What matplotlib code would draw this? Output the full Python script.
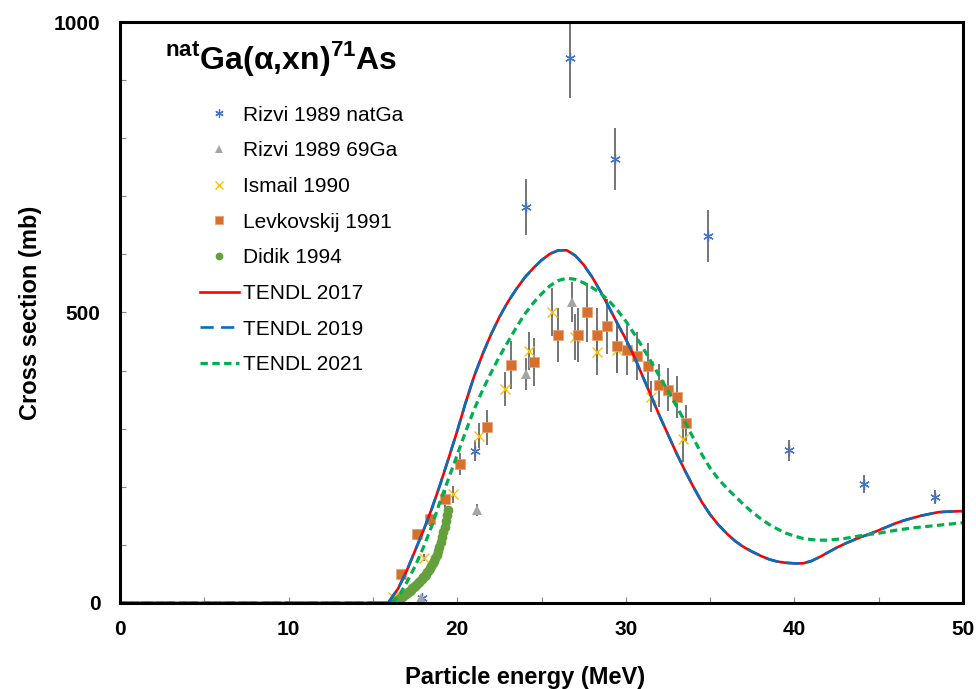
import matplotlib
matplotlib.use("Agg")
import matplotlib.pyplot as plt
from matplotlib.ticker import MultipleLocator

plt.rcParams['font.family'] = ['Liberation Sans', 'DejaVu Sans']
plt.rcParams['mathtext.fontset'] = 'custom'
plt.rcParams['mathtext.rm'] = 'Liberation Sans'
plt.rcParams['mathtext.bf'] = 'Liberation Sans:bold'

# --- DATA ---
rizvi_nat_e = [17.89, 21.06, 24.06, 26.69, 29.36, 34.88, 39.68, 44.13, 48.34]
rizvi_nat_s = [9, 262, 682, 938, 764, 632, 263, 205, 183]
rizvi_nat_err = [4, 18, 48, 68, 54, 45, 18, 15, 12]

rizvi_69_e = [17.85, 21.17, 24.06, 26.80]
rizvi_69_s = [9, 160, 394, 518]
rizvi_69_err = [3, 10, 28, 35]

ismail_e = [16.17, 18.05, 19.73, 21.29, 22.84, 24.26, 25.62, 26.99, 28.29, 29.48, 31.50, 33.39]
ismail_s = [10, 78, 187, 288, 368, 434, 501, 458, 432, 435, 355, 282]
ismail_err = [2, 6, 15, 22, 29, 33, 41, 40, 40, 40, 27, 40]

levk_e = [16.67, 17.60, 18.39, 19.30, 20.17, 21.79, 23.19, 24.57, 26.00, 27.19, 27.68,
          28.27, 28.87, 29.46, 30.09, 30.68, 31.34, 31.97, 32.48, 33.06, 33.55]
levk_s = [49, 118, 145, 179, 239, 302, 410, 415, 461, 461, 500,
          461, 476, 442, 435, 425, 407, 375, 367, 355, 309]
levk_err = [4, 10, 12, 15, 19, 30, 41, 41, 46, 46, 50,
            46, 48, 44, 43, 42, 41, 37, 37, 36, 31]

didik_e = [16.30, 16.38, 16.46, 16.54, 16.62, 16.70, 16.78, 16.86, 16.94, 17.02, 17.10,
           17.18, 17.26, 17.34, 17.42, 17.50, 17.58, 17.66, 17.74, 17.82, 17.90, 17.98,
           18.06, 18.14, 18.22, 18.30, 18.38, 18.46, 18.54, 18.62, 18.70, 18.78, 18.86,
           18.94, 19.02, 19.10, 19.18, 19.26, 19.34, 19.42, 19.47]
didik_s = [3, 4, 5, 6, 8, 10, 12, 13, 15, 17, 19,
           21, 23, 25, 27, 29, 31, 34, 36, 38, 41, 44,
           47, 50, 53, 56, 60, 64, 68, 72, 77, 82, 89,
           96, 104, 113, 122, 131, 141, 152, 160]

tendl17_e = [0, 15.9, 16.5, 17, 17.5, 18, 18.5, 19, 19.5, 20, 20.5, 21, 21.5, 22, 22.5, 23,
             23.5, 24, 24.5, 25, 25.5, 26, 26.5, 27, 27.5, 28, 28.5, 29, 29.5, 30, 30.5,
             31, 31.5, 32, 32.5, 33, 33.5, 34, 34.5, 35, 35.5, 36, 36.5, 37, 37.5, 38,
             38.5, 39, 39.5, 40, 40.5, 41, 41.5, 42, 42.5, 43, 43.5, 44, 44.5, 45, 45.5,
             46, 46.5, 47, 47.5, 48, 48.5, 49, 50]
tendl17_s = [0, 0, 25, 55, 90, 125, 163, 205, 250, 296, 345, 390, 428, 462, 492, 518,
             540, 560, 576, 590, 601, 607, 607, 598, 582, 561, 536, 509, 481, 454, 424,
             390, 356, 322, 290, 258, 228, 200, 174, 152, 134, 119, 106, 96, 88, 81,
             75, 71, 69, 68, 68, 72, 79, 87, 95, 102, 108, 114, 119, 125, 131,
             137, 142, 146, 150, 153, 156, 157, 158]
tendl19_e = tendl17_e
tendl19_s = tendl17_s

tendl21_e = [0, 16.1, 16.5, 17, 17.5, 18, 18.5, 19, 19.5, 20, 20.5, 21, 21.5, 22, 22.5, 23,
             23.5, 24, 24.5, 25, 25.5, 26, 26.5, 27, 27.5, 28, 28.5, 29, 29.5, 30, 30.5,
             31, 31.5, 32, 32.5, 33, 33.5, 34, 34.5, 35, 35.5, 36, 36.5, 37, 37.5, 38,
             38.5, 39, 39.5, 40, 40.5, 41, 41.5, 42, 43, 44, 45, 46, 47, 48, 49, 50]
tendl21_s = [0, 0, 10, 35, 63, 96, 133, 176, 215, 255, 295, 333, 366, 396, 424, 449,
             474, 497, 516, 532, 546, 555, 559, 557, 551, 543, 533, 520, 504, 485, 463,
             440, 415, 390, 365, 339, 312, 284, 256, 232, 213, 197, 183, 169, 156, 145,
             135, 127, 120, 115, 111, 109, 108, 108, 111, 116, 120, 125, 129, 132, 135, 138]

# --- PLOT ---
fig = plt.figure(figsize=(9.76, 6.89), dpi=100)
ax = fig.add_axes([0.123, 0.125, 0.8637, 0.843])

ebar_kw = dict(fmt='none', ecolor='#6a6a6a', elinewidth=1.3, capsize=0, zorder=2)
ax.errorbar(rizvi_nat_e, rizvi_nat_s, yerr=rizvi_nat_err, **ebar_kw)
ax.errorbar(rizvi_69_e, rizvi_69_s, yerr=rizvi_69_err, **ebar_kw)
ax.errorbar(ismail_e, ismail_s, yerr=ismail_err, **ebar_kw)
ax.errorbar(levk_e, levk_s, yerr=levk_err, **ebar_kw)

ax.plot(rizvi_nat_e, rizvi_nat_s, linestyle='none', marker=(6, 2, 0), ms=7.5, mew=0.9,
        color='#4472C4', label='Rizvi 1989 natGa', zorder=3)
ax.plot(rizvi_69_e, rizvi_69_s, linestyle='none', marker='^', ms=6.5, mew=0,
        color='#A5A5A5', label='Rizvi 1989 69Ga', zorder=3)
ax.plot(ismail_e, ismail_s, linestyle='none', marker='x', ms=6.5, mew=1.0,
        color='#FFC000', label='Ismail 1990', zorder=3)
ax.plot(levk_e, levk_s, linestyle='none', marker='s', ms=7, mew=0.5, mec='#E8A070',
        color='#D7702C', label='Levkovskij 1991', zorder=3)
ax.plot(didik_e, didik_s, linestyle='none', marker='o', ms=7, mew=0,
        color='#64A03C', label='Didik 1994', zorder=3)

ax.plot(tendl17_e, tendl17_s, color='#FF0000', lw=1.9, label='TENDL 2017', zorder=4)
ax.plot(tendl19_e, tendl19_s, color='#0070C0', lw=1.9, linestyle=(0, (5.0, 2.8)),
        label='TENDL 2019', zorder=5)
ax.plot(tendl21_e, tendl21_s, color='#00B050', lw=2.3, linestyle=(0, (2.3, 1.4)),
        label='TENDL 2021', zorder=6)

ax.set_xlim(0, 50)
ax.set_ylim(0, 1000)
ax.xaxis.set_major_locator(MultipleLocator(10))
ax.xaxis.set_minor_locator(MultipleLocator(5))
ax.yaxis.set_major_locator(MultipleLocator(500))
ax.yaxis.set_minor_locator(MultipleLocator(100))
ax.tick_params(which='both', direction='in', length=4, width=0.8, color='#888888')
ax.tick_params(axis='x', which='major', pad=12, labelsize=15)
ax.tick_params(axis='y', which='major', pad=14, labelsize=15)
for lab in ax.get_xticklabels() + ax.get_yticklabels():
    lab.set_fontweight('bold')
for sp in ax.spines.values():
    sp.set_linewidth(2.2)
    sp.set_zorder(7)

ax.set_xlabel('Particle energy (MeV)', fontsize=17, fontweight='bold', va='baseline')
ax.set_ylabel('Cross section (mb)', fontsize=17, fontweight='bold')
ax.xaxis.set_label_coords(0.48, -0.14)
ax.yaxis.set_label_coords(-0.093, 0.5)

ax.text(0.053, 0.938, r'$^{\mathbf{nat}}$Ga(α,xn)$^{\mathbf{71}}$As', transform=ax.transAxes,
        fontsize=23, fontweight='bold', ha='left', va='center')

ax.legend(loc='upper left', bbox_to_anchor=(0.082, 0.874), frameon=False, fontsize=15,
          handlelength=1.9, handletextpad=0.2, labelspacing=0.8, borderpad=0,
          markerscale=0.8)

fig.savefig('out.png', dpi=100)
